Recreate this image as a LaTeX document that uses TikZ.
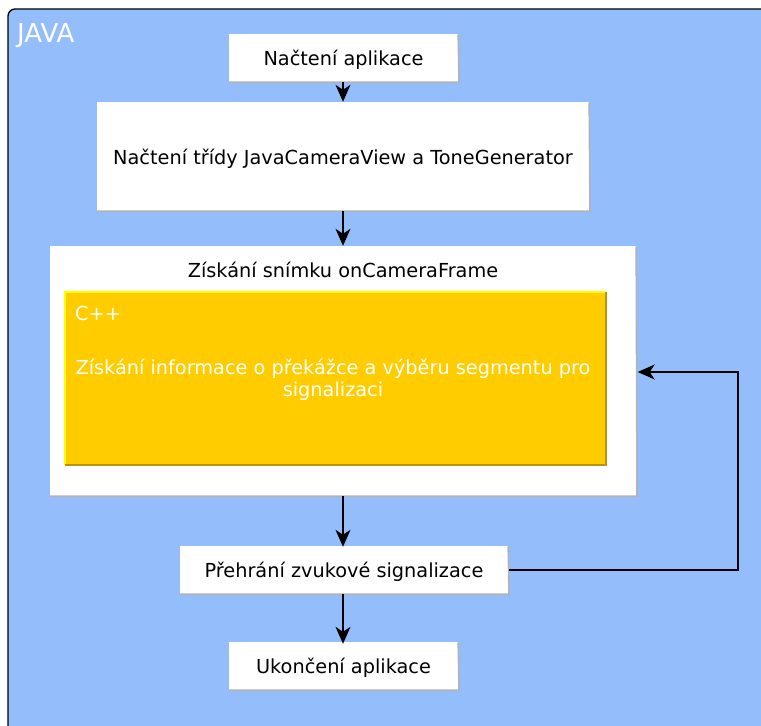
\documentclass[tikz,border=0pt]{standalone}
\usepackage{fontspec}
\setmainfont{DejaVu Sans}
\usetikzlibrary{arrows.meta}
\definecolor{javablue}{RGB}{148,189,252}
\definecolor{cppfill}{RGB}{255,204,0}
\definecolor{cpplight}{RGB}{255,255,0}
\definecolor{cppdark}{RGB}{184,150,11}
\definecolor{shadowgray}{RGB}{179,179,179}
\tikzset{
  x=1pt, y=-1pt,
  labelfont/.style={font=\fontsize{19.3}{22}\selectfont},
  stepbox/.style={fill=white, draw=none, inner sep=0pt, align=center, labelfont,
    text height=15pt, text depth=0pt},
  flow/.style={line width=1.5pt, -{Stealth[length=17pt,width=15pt,inset=5pt]}},
  edge3d/.style={line width=1.6pt, draw=shadowgray},
}
\newcommand{\boxshade}[1]{%
  \draw[edge3d] ([yshift=-0.8pt]#1.north east) -- ([xshift=0.8pt]#1.south east) -- (#1.south west);}
\begin{document}
\begin{tikzpicture}
\useasboundingbox (0,0) rectangle (761,726);
\clip (0,0) rectangle (761,726);
% JAVA container
\draw[fill=javablue, line width=1.3pt, rounded corners=7pt] (8,9) rectangle (800,780);
\node[anchor=west, text=white, inner sep=0pt, font=\fontsize{26}{30}\selectfont] (java) at (17,36) {JAVA};

% steps
\node[stepbox, minimum width=229pt, minimum height=48pt] (load) at (343.5,58) {Načtení aplikace};
\node[stepbox, minimum width=492pt, minimum height=109pt] (cls) at (343,156.5) {Načtení třídy JavaCameraView a ToneGenerator};
\node[stepbox, minimum width=586pt, minimum height=250pt] (frame) at (343,371) {};
\node[inner sep=0pt, labelfont] (frametitle) at (343,269.5) {Získání snímku onCameraFrame};
\node[fill=cppfill, minimum width=541pt, minimum height=173pt, inner sep=0pt] (cpp) at (335.5,378.5) {};
\draw[line width=1.5pt, cpplight] (cpp.south west) -- (cpp.north west) -- (cpp.north east);
\draw[line width=1.5pt, cppdark] (cpp.north east) -- (cpp.south east) -- (cpp.south west);
\node[anchor=west, text=white, inner sep=0pt, labelfont] (cpplabel) at (75,313) {C++};
\node[text=white, inner sep=0pt, align=center, labelfont] (cpptext) at (333,379.5) {Získání informace o překážce a výběru segmentu pro\\signalizaci};
\node[stepbox, minimum width=328pt, minimum height=48pt] (play) at (344,570) {Přehrání zvukové signalizace};
\node[stepbox, minimum width=229pt, minimum height=48pt] (end) at (343.5,666) {Ukončení aplikace};

\boxshade{load}
\boxshade{cls}
\boxshade{frame}
\boxshade{play}
\boxshade{end}

% connectors
\coordinate (loopright) at (738,570);
\draw[flow] (load.south -| 343,0) -- (cls.north -| 343,0);
\draw[flow] (cls.south -| 343,0) -- (frame.north -| 343,0);
\draw[flow] (frame.south -| 343,0) -- ([yshift=-1pt]play.north -| 343,0);
\draw[flow] (play.south -| 343,0) -- ([yshift=-2pt]end.north -| 343,0);
\draw[flow] ([xshift=1pt]play.east) -- (loopright) |- ([xshift=1.5pt]frame.east |- 0,372);
\end{tikzpicture}
\end{document}
